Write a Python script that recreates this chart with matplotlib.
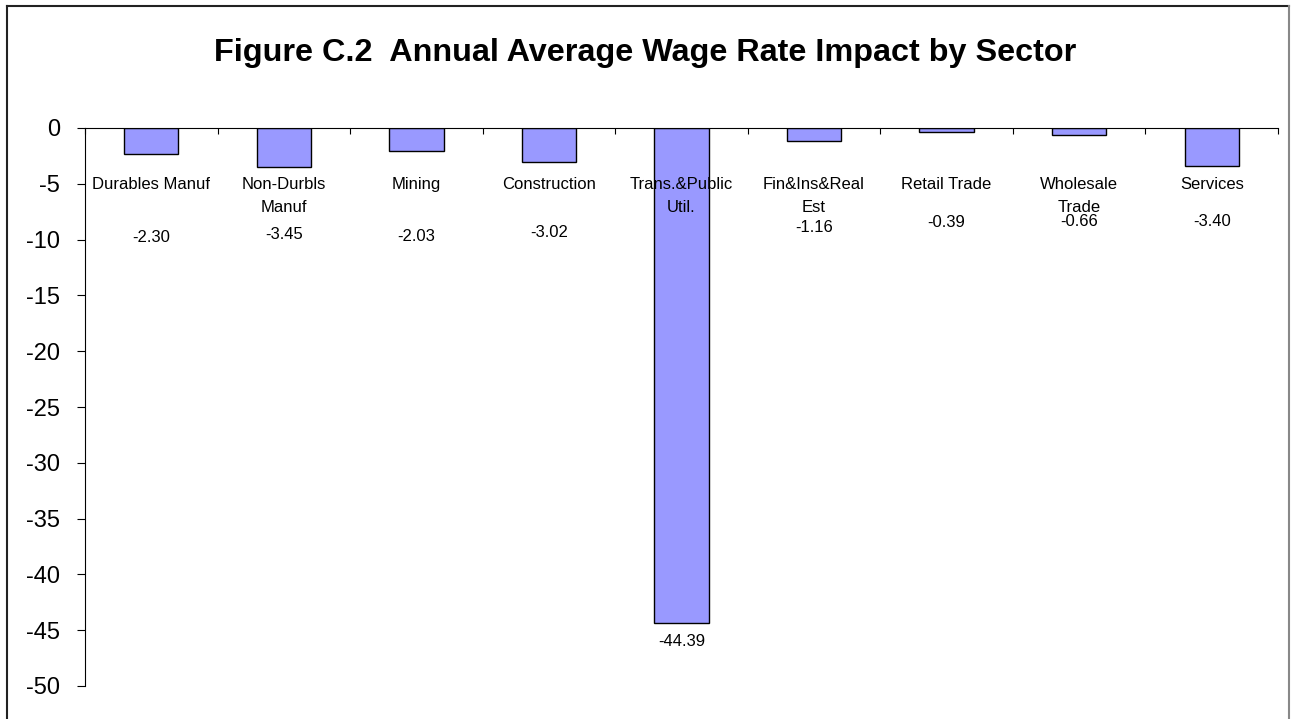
import matplotlib
matplotlib.use("Agg")
import matplotlib.pyplot as plt
from matplotlib.lines import Line2D

plt.rcParams['font.family'] = ['Liberation Sans', 'DejaVu Sans']
plt.rcParams['axes.unicode_minus'] = False

# Sector wage rate impacts
sectors = ["Durables Manuf", "Non-Durbls\nManuf", "Mining", "Construction",
           "Trans.&Public\nUtil.", "Fin&Ins&Real\nEst", "Retail Trade",
           "Wholesale\nTrade", "Services"]
impact = [-2.30, -3.45, -2.03, -3.02, -44.39, -1.16, -0.39, -0.66, -3.40]

fig = plt.figure(figsize=(12.91, 7.19), dpi=100)
ax = fig.add_axes([85 / 1291, 33 / 719, (1278 - 85) / 1291, (686 - 128) / 719])

x = list(range(len(sectors)))
ax.bar(x, impact, width=0.41, color='#9999FF', edgecolor='black', linewidth=1.0, zorder=1)
ax.set_axisbelow(False)

# value labels sit below the category names, or under the bar when it runs past them
label_y = [-9.8, -9.5, -9.7, -9.4, None, -8.9, -8.5, -8.35, -8.4]
for i, v in enumerate(impact):
    y = label_y[i] if label_y[i] is not None else v - 1.6
    ax.text(i, y, f"{v:.2f}", ha='center', va='center', fontsize=12, zorder=4)

ax.set_xlim(-0.5, len(sectors) - 0.5)
ax.set_ylim(-50, 0)
ax.set_yticks(range(-50, 1, 5))
ax.tick_params(axis='y', direction='out', length=6, width=0.8, pad=12, labelsize=17)

# category axis drawn along zero with names hanging below it
ax.spines['bottom'].set_position(('data', 0))
ax.spines['top'].set_visible(False)
ax.spines['right'].set_visible(False)
ax.spines['bottom'].set_linewidth(0.8)
ax.spines['left'].set_linewidth(0.8)
ax.set_xticks(x)
ax.set_xticklabels(sectors, fontsize=12, linespacing=1.6)
ax.tick_params(axis='x', which='major', length=0, pad=35.5)
ax.set_xticks([i - 0.5 for i in range(len(sectors) + 1)], minor=True)
ax.tick_params(axis='x', which='minor', direction='out', length=4, width=0.8)

fig.text(0.5, 1 - 53 / 719, "Figure C.2  Annual Average Wage Rate Impact by Sector",
         ha='center', va='center', fontsize=23.3, fontweight='bold')

# chart area border
fig.add_artist(Line2D([7 / 1291, 7 / 1291], [0, 1 - 6 / 719], transform=fig.transFigure,
                      color='#222222', linewidth=1.5))
fig.add_artist(Line2D([7 / 1291, 1289 / 1291], [1 - 6 / 719, 1 - 6 / 719], transform=fig.transFigure,
                      color='#222222', linewidth=1.5))
fig.add_artist(Line2D([1289 / 1291, 1289 / 1291], [0, 1 - 6 / 719], transform=fig.transFigure,
                      color='#888888', linewidth=1.5))

fig.savefig("out.png", dpi=100)
